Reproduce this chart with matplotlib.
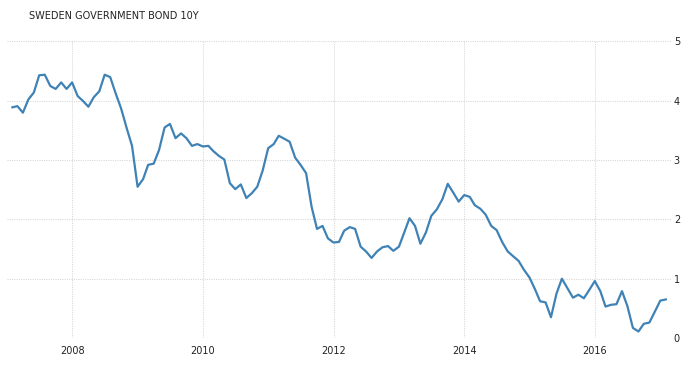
import matplotlib
matplotlib.use("Agg")
import matplotlib.pyplot as plt
import matplotlib.dates as mdates
import pandas as pd

# monthly 10y yield, Jan 2007 - Jan 2017
dates = pd.date_range("2007-01-31", periods=121, freq="ME")
yields = [
    3.89, 3.91, 3.80, 4.02, 4.14, 4.43, 4.44, 4.25, 4.20, 4.31, 4.20, 4.31,
    4.08, 4.00, 3.90, 4.06, 4.16, 4.44, 4.40, 4.12, 3.87, 3.54, 3.24, 2.55,
    2.68, 2.92, 2.94, 3.17, 3.55, 3.61, 3.37, 3.45, 3.37, 3.24, 3.27, 3.23,
    3.24, 3.15, 3.07, 3.01, 2.61, 2.51, 2.59, 2.36, 2.44, 2.55, 2.82, 3.20,
    3.27, 3.41, 3.36, 3.31, 3.04, 2.92, 2.78, 2.21, 1.84, 1.89, 1.68, 1.61,
    1.62, 1.81, 1.87, 1.84, 1.54, 1.46, 1.35, 1.46, 1.53, 1.55, 1.47, 1.54,
    1.79, 2.02, 1.89, 1.59, 1.78, 2.06, 2.17, 2.34, 2.60, 2.45, 2.30, 2.41,
    2.38, 2.24, 2.18, 2.08, 1.89, 1.82, 1.62, 1.46, 1.38, 1.30, 1.15, 1.02,
    0.82, 0.62, 0.60, 0.35, 0.75, 1.00, 0.84, 0.68, 0.73, 0.67, 0.81, 0.96,
    0.79, 0.53, 0.56, 0.57, 0.79, 0.54, 0.17, 0.11, 0.24, 0.26, 0.44, 0.63,
    0.65,
]
year_ticks = [2008, 2010, 2012, 2014, 2016]
y_ticks = [0, 1, 2, 3, 4, 5]
title = "SWEDEN GOVERNMENT BOND 10Y"

fig = plt.figure(figsize=(6.97, 3.65), dpi=100)
ax = fig.add_axes([7 / 697, 1 - 338 / 365, 664 / 697, 296.5 / 365])

ax.plot(dates, yields, color="#3f82b5", linewidth=1.6, solid_joinstyle="round")

ax.set_xlim(pd.Timestamp("2007-01-01"), pd.Timestamp("2017-03-01"))
ax.set_ylim(0, 5)
ax.set_xticks([pd.Timestamp(f"{y}-01-01") for y in year_ticks])
ax.xaxis.set_major_formatter(mdates.DateFormatter("%Y"))
ax.set_yticks(y_ticks)

ax.yaxis.tick_right()
ax.tick_params(axis="both", length=0, labelsize=7, labelcolor="#222222")
ax.tick_params(axis="x", pad=6)
ax.tick_params(axis="y", pad=2)

for s in ax.spines.values():
    s.set_visible(False)
# fine dotted grid
ax.grid(True, color="#d6d6d6", linestyle=(0, (1, 1.2)), linewidth=0.75)
ax.set_axisbelow(True)

fig.text(29 / 697, 1 - 16 / 365, title, fontsize=7, color="#222222", va="center")

fig.savefig("out.png", dpi=100)
